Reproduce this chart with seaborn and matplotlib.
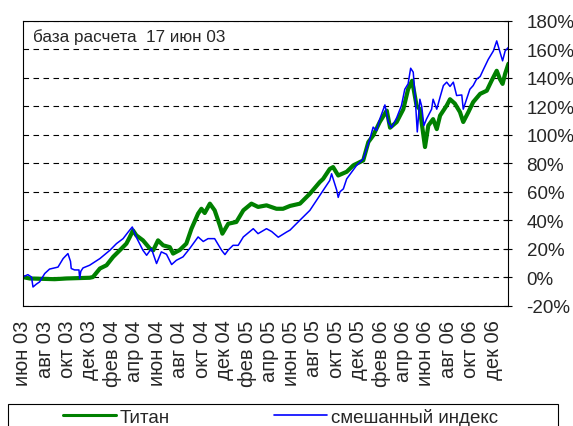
import matplotlib
matplotlib.use("Agg")
import matplotlib.pyplot as plt
from matplotlib.lines import Line2D
from matplotlib.patches import Rectangle
from matplotlib.ticker import FuncFormatter
import pandas as pd
import seaborn as sns

# ---- data (% change from base date 17 Jun 2003) ----
titan_dates = [
    "2003-06-17", "2003-07-06", "2003-09-12", "2003-10-14", "2003-12-16", "2003-12-25",
    "2004-01-13", "2004-01-31", "2004-02-18", "2004-03-07", "2004-03-25", "2004-04-03",
    "2004-04-12", "2004-04-21", "2004-05-09", "2004-05-28", "2004-06-06", "2004-06-19",
    "2004-07-03", "2004-07-21", "2004-07-30", "2004-08-17", "2004-09-04", "2004-09-18",
    "2004-10-06", "2004-10-15", "2004-10-24", "2004-11-07", "2004-11-20", "2004-12-04",
    "2004-12-11", "2004-12-27", "2005-01-18", "2005-02-06", "2005-02-28", "2005-03-18",
    "2005-04-10", "2005-05-07", "2005-05-25", "2005-06-13", "2005-07-10", "2005-08-06",
    "2005-09-02", "2005-09-11", "2005-09-29", "2005-10-08", "2005-10-22", "2005-11-14",
    "2005-12-02", "2005-12-29", "2006-01-12", "2006-01-25", "2006-02-12", "2006-03-03",
    "2006-03-12", "2006-03-30", "2006-04-17", "2006-04-30", "2006-05-11", "2006-05-23",
    "2006-06-01", "2006-06-15", "2006-06-24", "2006-07-07", "2006-07-17", "2006-07-26",
    "2006-08-13", "2006-08-22", "2006-09-04", "2006-09-18", "2006-09-27", "2006-10-11",
    "2006-10-24", "2006-11-12", "2006-11-30", "2006-12-13", "2006-12-27", "2007-01-05",
    "2007-01-12", "2007-01-19", "2007-01-28",
]
titan_values = [
    0, -1, -1.5, -1, -0.5, 0,
    6, 8.3, 14.2, 18.8, 23.5, 28,
    32.8, 29.3, 25.8, 20, 18.8, 25.8,
    22.3, 21, 16.5, 19, 23.5, 34,
    44.6, 48, 45, 51.6, 46.9, 36.4,
    30.5, 37.5, 38.7, 46.9, 51.6, 49.3,
    50.4, 48, 48, 50, 51.6, 58.6,
    66.8, 69, 76, 77.3, 71.4, 74,
    78.5, 82, 94.9, 99.5, 109, 117,
    105, 109, 118, 132, 138, 120.6,
    118, 91.4, 106.5, 111, 104, 113.5,
    120.6, 125, 122, 116, 109, 116,
    123, 128.8, 131, 138, 145, 139,
    135.8, 143, 150,
]

index_dates = [
    "2003-06-17", "2003-07-01", "2003-07-11", "2003-07-15", "2003-07-24", "2003-08-02",
    "2003-08-16", "2003-08-29", "2003-09-21", "2003-10-05", "2003-10-18", "2003-10-25",
    "2003-10-27", "2003-11-05", "2003-11-17", "2003-11-19", "2003-11-22", "2003-11-28",
    "2003-12-16", "2004-01-13", "2004-02-09", "2004-02-27", "2004-03-16", "2004-03-30",
    "2004-04-10", "2004-04-21", "2004-05-09", "2004-05-19", "2004-06-01", "2004-06-15",
    "2004-06-28", "2004-07-12", "2004-07-26", "2004-08-08", "2004-08-26", "2004-09-13",
    "2004-10-06", "2004-10-20", "2004-11-02", "2004-11-20", "2004-12-09", "2004-12-18",
    "2004-12-27", "2005-01-09", "2005-01-23", "2005-02-06", "2005-03-05", "2005-03-18",
    "2005-04-10", "2005-04-24", "2005-05-12", "2005-06-04", "2005-06-13", "2005-06-26",
    "2005-07-10", "2005-08-06", "2005-09-02", "2005-09-29", "2005-10-04", "2005-10-18",
    "2005-10-22", "2005-10-27", "2005-11-05", "2005-11-14", "2005-12-11", "2005-12-29",
    "2006-01-16", "2006-01-25", "2006-02-03", "2006-02-12", "2006-02-26", "2006-03-07",
    "2006-03-16", "2006-03-30", "2006-04-12", "2006-04-21", "2006-04-30", "2006-05-07",
    "2006-05-14", "2006-05-19", "2006-05-25", "2006-06-01", "2006-06-06", "2006-06-12",
    "2006-06-19", "2006-07-03", "2006-07-07", "2006-07-17", "2006-07-26", "2006-08-04",
    "2006-08-13", "2006-08-22", "2006-08-31", "2006-09-09", "2006-09-23", "2006-09-27",
    "2006-10-06", "2006-10-15", "2006-10-24", "2006-11-02", "2006-11-12", "2006-11-21",
    "2006-12-04", "2006-12-18", "2006-12-27", "2007-01-05", "2007-01-12", "2007-01-19",
    "2007-01-28",
]
index_values = [
    0, 1.7, 0, -7, -5, -3.4,
    2.5, 5.6, 7, 13, 16.5, 11,
    6, 5, 5, -1, 4, 6.4,
    8.3, 13, 18.8, 23.5, 27, 31.7,
    35.2, 28, 18.8, 15.3, 20, 9.5,
    17.7, 16, 8.8, 11.8, 14.2, 20,
    28.2, 25, 27, 27, 18.8, 15.8,
    19, 22.3, 22.3, 28.2, 34, 30.5,
    34, 32, 28, 31.7, 33, 36.4,
    40, 46.9, 57.4, 67.9, 72.6, 61,
    56, 60, 62, 69, 78.5, 83,
    97, 105.4, 103, 111, 121, 109,
    105, 112, 120.6, 132, 135.8, 146.8,
    144, 127.6, 102, 125, 120, 106.5,
    111, 118, 125, 118, 126.5, 134.6,
    137, 134, 137, 127.6, 128, 118,
    125, 132, 134.6, 139, 141, 146,
    153, 159, 166, 158, 152, 159,
    161.5,
]

tick_labels = [
    "июн 03", "авг 03", "окт 03", "дек 03", "фев 04", "апр 04", "июн 04", "авг 04",
    "окт 04", "дек 04", "фев 05", "апр 05", "июн 05", "авг 05", "окт 05", "дек 05",
    "фев 06", "апр 06", "июн 06", "авг 06", "окт 06", "дек 06",
]
y_ticks = [-20, 0, 20, 40, 60, 80, 100, 120, 140, 160, 180]

# ---- style ----
sns.set_style("white")
plt.rcParams["font.family"] = ["Liberation Sans", "DejaVu Sans"]

fig = plt.figure(figsize=(5.73, 4.27), dpi=100)
ax = fig.add_axes([0.0396, 0.2822, 0.8478, 0.6663])

titan_df = pd.DataFrame({"date": pd.to_datetime(titan_dates), "value": titan_values})
index_df = pd.DataFrame({"date": pd.to_datetime(index_dates), "value": index_values})

sns.lineplot(data=titan_df, x="date", y="value", color="#008000", linewidth=3.0, ax=ax)
sns.lineplot(data=index_df, x="date", y="value", color="#0000ff", linewidth=1.1, ax=ax)

ax.set_xlim(pd.Timestamp("2003-06-17"), pd.Timestamp("2007-01-28"))
ax.set_ylim(-20, 180)
ax.set_xlabel("")
ax.set_ylabel("")

tick_dates = pd.date_range("2003-06-17", periods=len(tick_labels), freq=pd.DateOffset(months=2))
ax.set_xticks(tick_dates)
ax.set_xticklabels(tick_labels, rotation=90, fontsize=14.5)
ax.tick_params(axis="x", direction="out", length=4, width=0.8, color="black", pad=6)

ax.yaxis.tick_right()
ax.set_yticks(y_ticks)
ax.yaxis.set_major_formatter(FuncFormatter(lambda v, p: f"{v:.0f}%"))
ax.tick_params(axis="y", direction="inout", length=6, width=0.8, color="black",
               labelsize=13.5, pad=10)

ax.yaxis.grid(True, color="black", linestyle=(0, (5, 4)), linewidth=0.8)
ax.xaxis.grid(False)
for s in ax.spines.values():
    s.set_visible(True)
    s.set_color("black")
    s.set_linewidth(0.8)

ax.text(0.0206, 0.929, "база расчета  17 июн 03", transform=ax.transAxes,
        fontsize=12.3, va="baseline", ha="left")

# legend box at the bottom
fig.patches.append(Rectangle((8 / 573, -0.01), 550 / 573, 26 / 427, transform=fig.transFigure,
                             fill=False, edgecolor="black", linewidth=0.8))
handles = [Line2D([], [], color="#008000", linewidth=2.2),
           Line2D([], [], color="#0000ff", linewidth=1.2)]
fig.legend(handles, ["Титан", "смешанный индекс"], loc="center left",
           bbox_to_anchor=(63 / 573, 1 - 418 / 427), ncol=2, frameon=False,
           fontsize=13.5, handlelength=2.8, handletextpad=0.2, columnspacing=5.6,
           borderpad=0, borderaxespad=0)

fig.savefig("out.png", dpi=100)
